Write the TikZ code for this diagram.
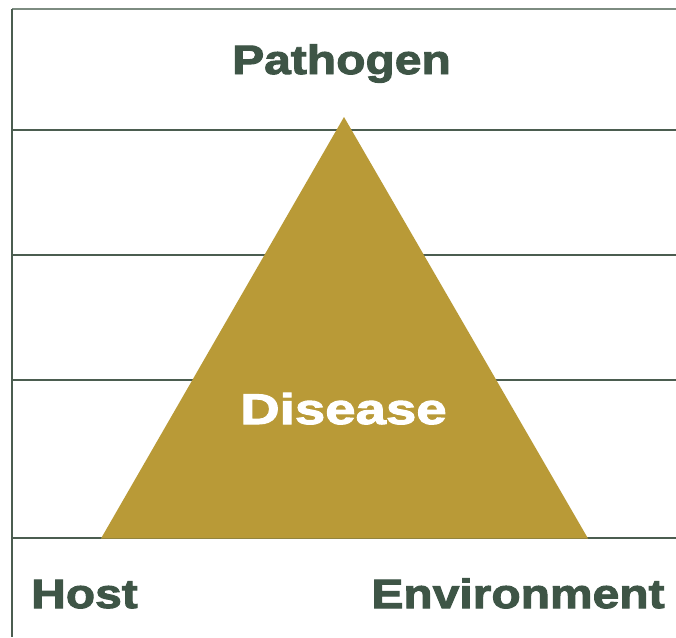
\documentclass[tikz,border=0pt]{standalone}
\usepackage{fontspec}
\setmainfont{Liberation Sans}
\newfontfamily\heavyfont[FakeBold=2.4,FakeStretch=1.17]{Liberation Sans Bold}
\newfontfamily\heavywide[FakeBold=2.4,FakeStretch=1.27]{Liberation Sans Bold}
\definecolor{txtgreen}{HTML}{3E5546}
\definecolor{linegreen}{HTML}{4B5D50}
\definecolor{toplinegreen}{HTML}{7D8C81}
\definecolor{gold}{HTML}{B99A37}
\begin{document}
\begin{tikzpicture}[x=1pt,y=-1pt,
  rule/.style={draw=linegreen,line width=1.3pt},
  label/.style={text=txtgreen,font=\heavyfont\fontsize{41}{41}\selectfont,inner sep=0pt,anchor=base},
]
\useasboundingbox (0,0) rectangle (676,637);
\fill[white] (0,0) rectangle (676,637);
% frame lines
\coordinate (tl) at (12,8.5);
\coordinate (tr) at (676,8.5);
\coordinate (bl) at (12,637);
\draw[draw=toplinegreen,line width=2pt] (tl) -- (tr);
\draw[rule] (tl) -- (bl);
\foreach \y/\n in {130/a,255/b,380/c,538/d}{
  \coordinate (l\n) at (12,\y);
  \coordinate (r\n) at (676,\y);
  \draw[rule] (l\n) -- (r\n);
}
% triangle
\coordinate (apex) at (344,117);
\coordinate (baseL) at (101,538.5);
\coordinate (baseR) at (588,538.5);
\fill[gold] (apex) -- (baseL) -- (baseR) -- cycle;
% labels
\node[label] (pathogen) at (341.5,74) {Pathogen};
\node[label] (host) at (84.5,608) {Host};
\node[label] (environment) at (518,608) {Environment};
\node[label,text=white,font=\heavywide\fontsize{43}{43}\selectfont] (disease) at (343.5,424) {Disease};
\end{tikzpicture}
\end{document}
